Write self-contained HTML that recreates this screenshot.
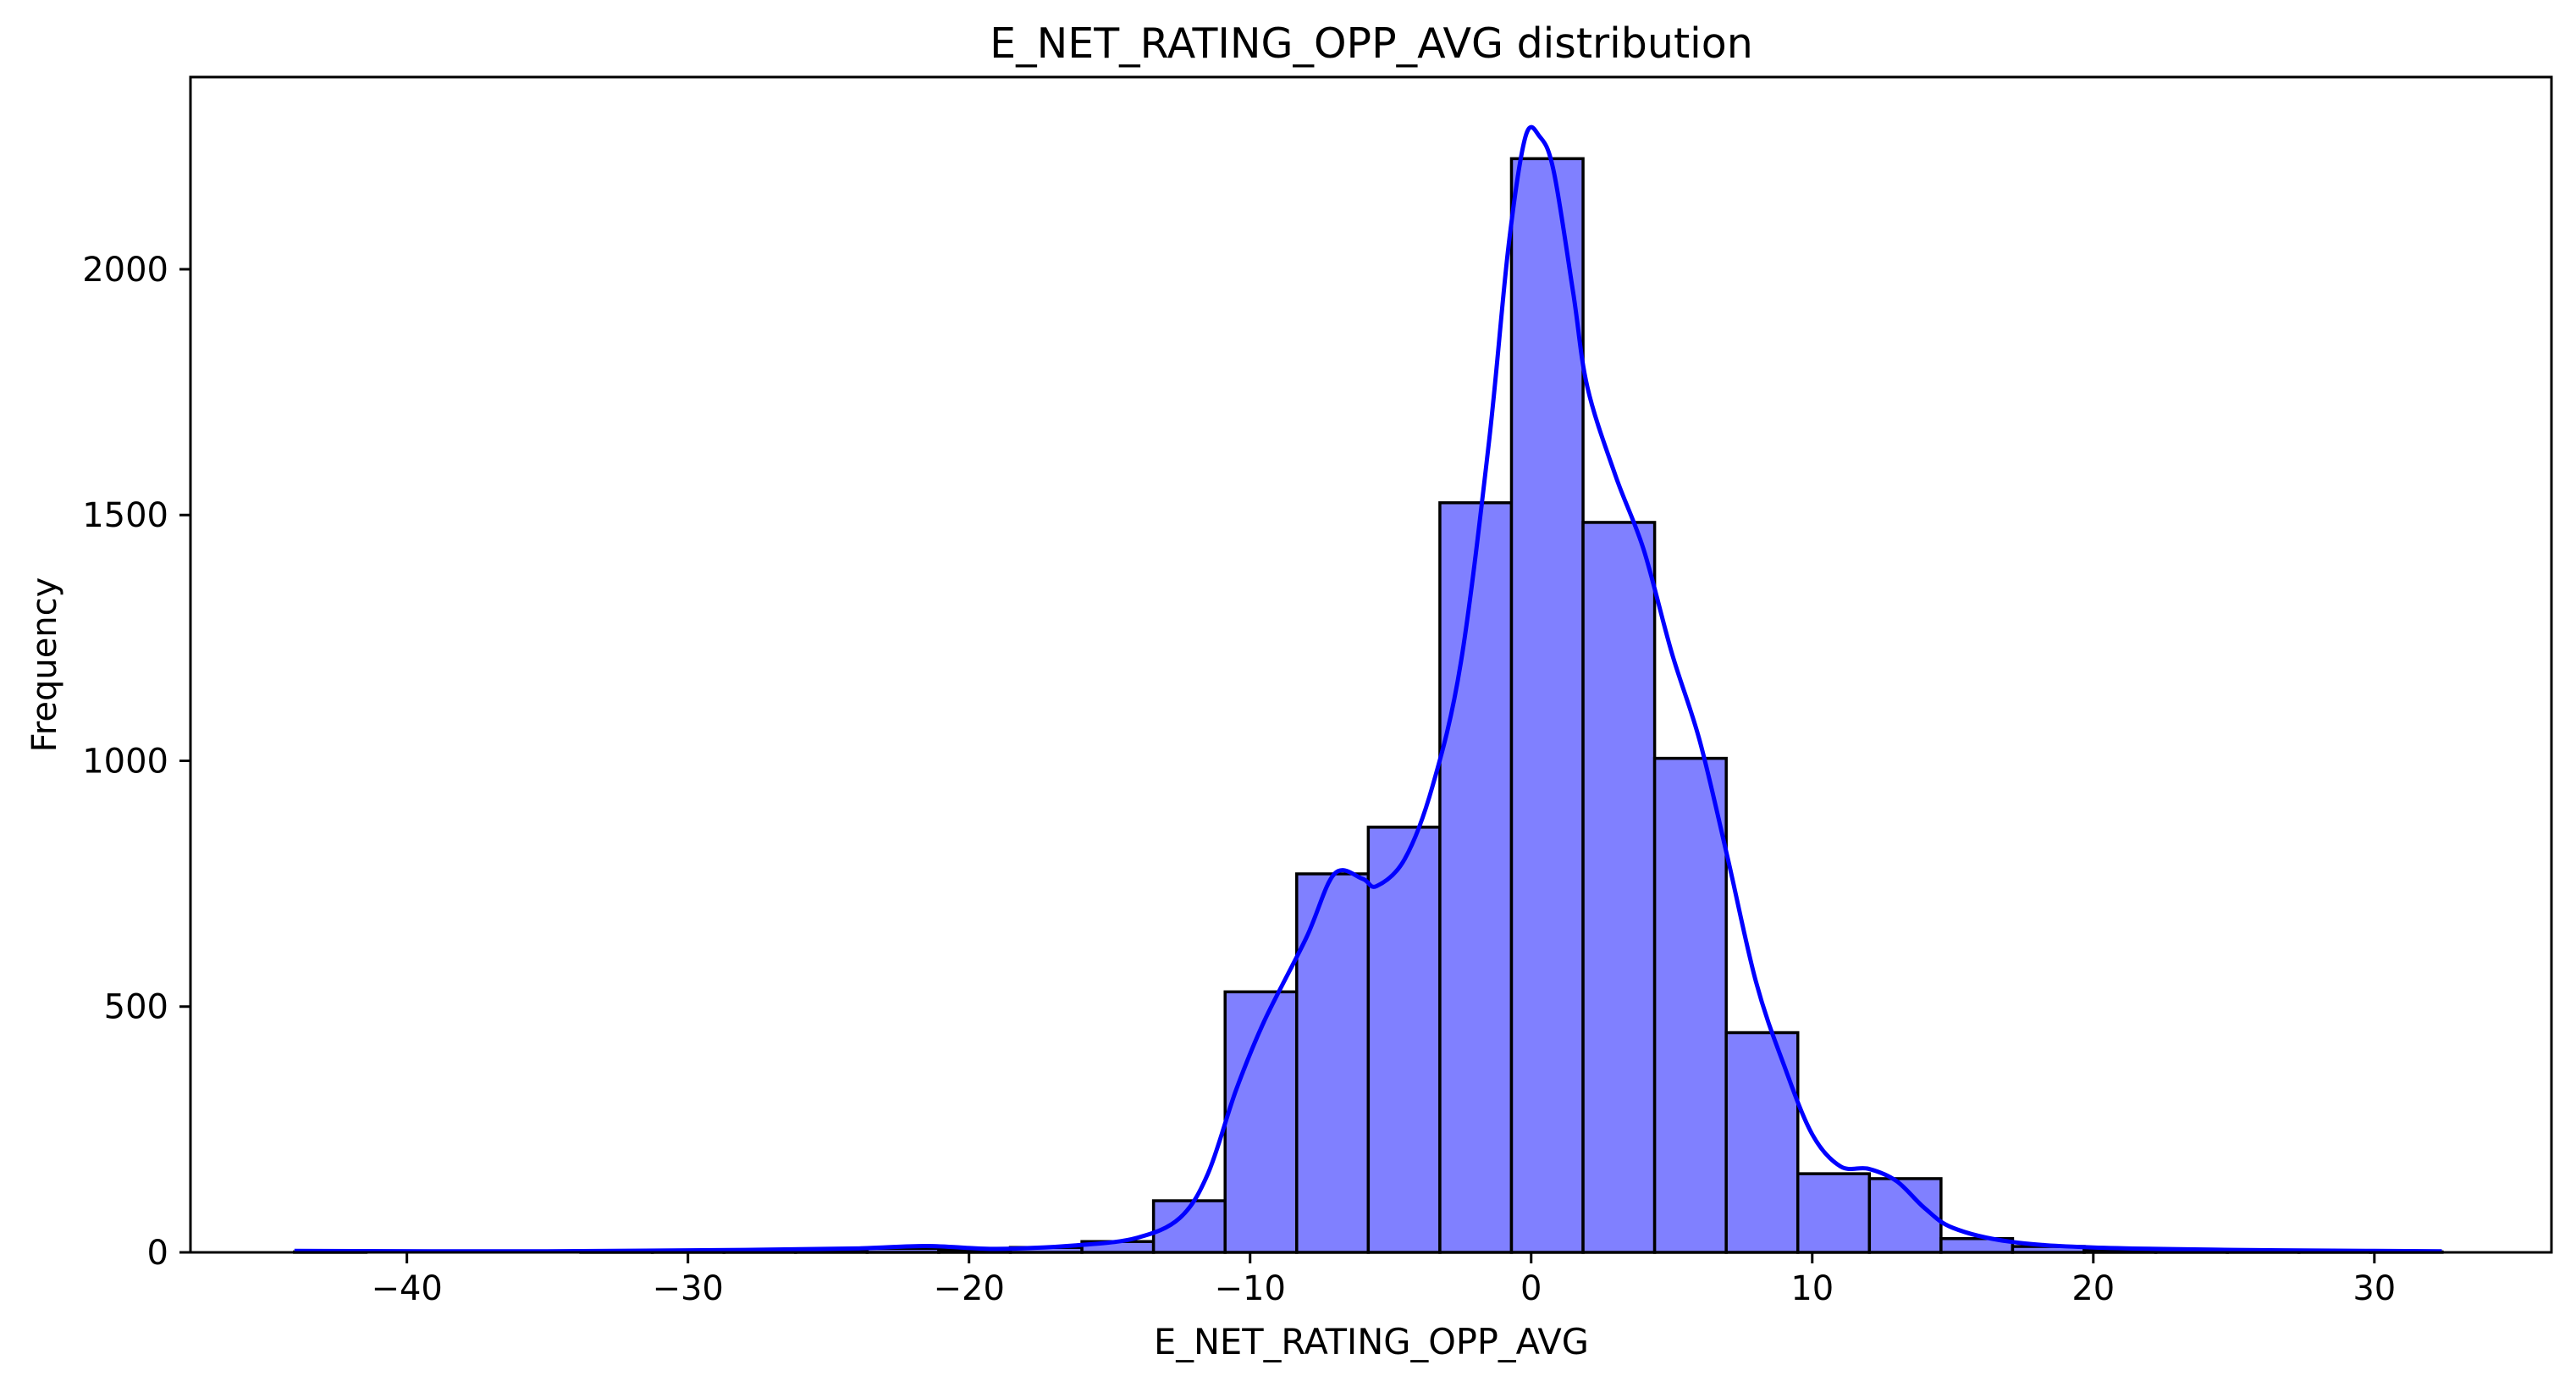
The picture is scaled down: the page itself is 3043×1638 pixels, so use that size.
<!DOCTYPE html>
<html><head><meta charset="utf-8"><style>
html,body{margin:0;padding:0;background:#fff;}
svg{display:block;font-family:"DejaVu Sans","Liberation Sans",sans-serif;}
</style></head><body>
<svg id="chart" width="3043" height="1638" viewBox="0 0 3043 1638" xmlns="http://www.w3.org/2000/svg">
<rect width="3043" height="1638" fill="#fff"/>
<text x="1620" y="68" font-size="49" text-anchor="middle">E_NET_RATING_OPP_AVG distribution</text>
<g id="bars"></g>
<g id="kde"></g>
<g id="axes"></g>
<text x="1620" y="1599" font-size="41.5" text-anchor="middle">E_NET_RATING_OPP_AVG</text>
<text transform="translate(66,785) rotate(-90)" font-size="40" text-anchor="middle">Frequency</text>
</svg>
<script>
const binStart = -44.0;
const binWidth = 2.547;
const counts = [1,0,0,0,1,2,3,5,8,6,10,22,105,530,770,865,1525,2225,1485,1005,447,160,150,28,12,5,3,2,1,1];
const kdeX = [-44,-35,-28,-24,-21.5,-19,-16,-14,-12.5,-11.5,-10.5,-9.5,-8,-7,-6,-5.5,-4.5,-3.5,-2.5,-1.5,-0.8,-0.2,0.3,0.8,1.5,2,3,4,5,6,7,8,9,10,11,12,13,14,15,17,20,25,30,32.4];
const kdeY = [3,2,5,8,13,7,15,30,70,160,330,470,640,770,760,745,800,950,1200,1650,2050,2270,2270,2200,1950,1760,1580,1430,1220,1040,800,550,380,240,175,170,145,90,50,22,10,5,3,2];
const xTicks = [-40,-30,-20,-10,0,10,20,30];
const yTicks = [0,500,1000,1500,2000];

const L=225,R=3014,T=91,B=1479;
const xMin=-47.7,xMax=36.3,yMax=2391;
const sx=v=>L+(v-xMin)/(xMax-xMin)*(R-L);
const sy=v=>B-v/yMax*(B-T);
const NS='http://www.w3.org/2000/svg';
function mk(tag,attrs,parent){const e=document.createElementNS(NS,tag);for(const k in attrs)e.setAttribute(k,attrs[k]);parent.appendChild(e);return e;}

const bars=document.getElementById('bars');
counts.forEach((c,i)=>{
  const x0=sx(binStart+i*binWidth),x1=sx(binStart+(i+1)*binWidth);
  const r=mk('rect',{x:x0,y:sy(c),width:x1-x0,height:B-sy(c),fill:'#8080ff',stroke:'#000','stroke-width':3.5},bars);
  
  
});

const kde=document.getElementById('kde');
const pts=kdeX.map((x,i)=>[sx(x),sy(kdeY[i])]);
let d='M'+pts[0][0].toFixed(1)+','+pts[0][1].toFixed(1);
for(let i=0;i<pts.length-1;i++){
  const p0=pts[Math.max(0,i-1)],p1=pts[i],p2=pts[i+1],p3=pts[Math.min(pts.length-1,i+2)];
  const c1=[p1[0]+(p2[0]-p0[0])/6,p1[1]+(p2[1]-p0[1])/6];
  const c2=[p2[0]-(p3[0]-p1[0])/6,p2[1]-(p3[1]-p1[1])/6];
  d+=' C'+c1[0].toFixed(1)+','+c1[1].toFixed(1)+' '+c2[0].toFixed(1)+','+c2[1].toFixed(1)+' '+p2[0].toFixed(1)+','+p2[1].toFixed(1);
}
const p=mk('path',{d:d,fill:'none',stroke:'#0000ff','stroke-width':5,'stroke-linejoin':'round'},kde);



const axes=document.getElementById('axes');
const fr=mk('rect',{x:L,y:T,width:R-L,height:B-T,fill:'none',stroke:'#000','stroke-width':3},axes);


xTicks.forEach(t=>{
  const x=sx(t);
  const ln=mk('line',{x1:x,x2:x,y1:B,y2:B+13,stroke:'#000','stroke-width':3},axes);
  
  
  const tx=mk('text',{x:x,y:B+56,'font-size':40,'text-anchor':'middle'},axes);
  tx.textContent=(t<0?'\u2212'+(-t):''+t);
  
  
});
yTicks.forEach(t=>{
  const y=sy(t);
  const ln=mk('line',{x1:L-13,x2:L,y1:y,y2:y,stroke:'#000','stroke-width':3},axes);
  
  
  const tx=mk('text',{x:L-26,y:y+14,'font-size':40,'text-anchor':'end'},axes);
  tx.textContent=''+t;
  
  
});
</script>
</body></html>
